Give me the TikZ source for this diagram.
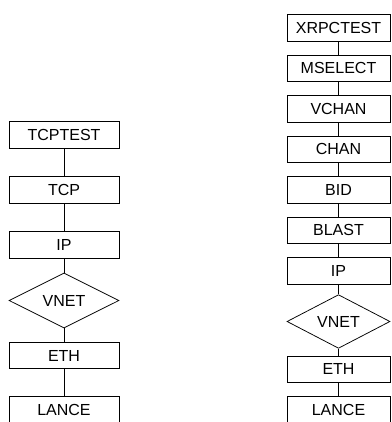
\documentclass[tikz,border=0pt]{standalone}
\usepackage{fontspec}
\setmainfont{Liberation Sans}
\usetikzlibrary{shapes.geometric}

\tikzset{
  label font/.style={font=\fontsize{16}{18}\selectfont},
  layer/.style={draw, line width=0.75pt, rectangle, inner sep=0pt,
    minimum height=26.7pt, label font},
  leftlayer/.style={layer, minimum width=110pt},
  rightlayer/.style={layer, minimum width=103pt},
  hub/.style={draw, line width=0.75pt, diamond, inner sep=0pt, label font},
  link/.style={line width=0.75pt},
}

\begin{document}
\begin{tikzpicture}[x=1pt, y=-1pt]
  \useasboundingbox (0,0) rectangle (391,422);
  \clip (0,0) rectangle (391,422);

  % left stack: TCP test over the Ethernet driver
  \node[leftlayer] (ltest)  at (64,135.0) {TCPTEST};
  \node[leftlayer] (ltcp)   at (64,190.0) {TCP};
  \node[leftlayer] (lip)    at (64,245.0) {IP};
  \node[hub, minimum width=110pt, minimum height=55pt] (lvnet) at (64,300.5) {VNET};
  \node[leftlayer] (leth)   at (64,355.5) {ETH};
  \node[leftlayer] (llance) at (64,410.0) {LANCE};

  \draw[link] (ltest) -- (ltcp);
  \draw[link] (ltcp) -- (lip);
  \draw[link] (lip) -- (lvnet);
  \draw[link] (lvnet) -- (leth);
  \draw[link] (leth) -- (llance);

  % right stack: RPC test over the same network layers
  \node[rightlayer] (rtest)   at (338.5,27.8)  {XRPCTEST};
  \node[rightlayer] (rsel)    at (338.5,68.3)  {MSELECT};
  \node[rightlayer] (rvchan)  at (338.5,108.8) {VCHAN};
  \node[rightlayer] (rchan)   at (338.5,149.3) {CHAN};
  \node[rightlayer] (rbid)    at (338.5,189.8) {BID};
  \node[rightlayer] (rblast)  at (338.5,230.3) {BLAST};
  \node[rightlayer] (rip)     at (338.5,270.8) {IP};
  \node[hub, minimum width=103pt, minimum height=53pt] (rvnet) at (338.5,321.5) {VNET};
  \node[rightlayer] (reth)    at (338.5,369.3) {ETH};
  \node[rightlayer] (rlance)  at (338.5,410.0) {LANCE};

  \draw[link] (rtest) -- (rsel);
  \draw[link] (rsel) -- (rvchan);
  \draw[link] (rvchan) -- (rchan);
  \draw[link] (rchan) -- (rbid);
  \draw[link] (rbid) -- (rblast);
  \draw[link] (rblast) -- (rip);
  \draw[link] (rip) -- (rvnet);
  \draw[link] (rvnet) -- (reth);
  \draw[link] (reth) -- (rlance);
\end{tikzpicture}
\end{document}
